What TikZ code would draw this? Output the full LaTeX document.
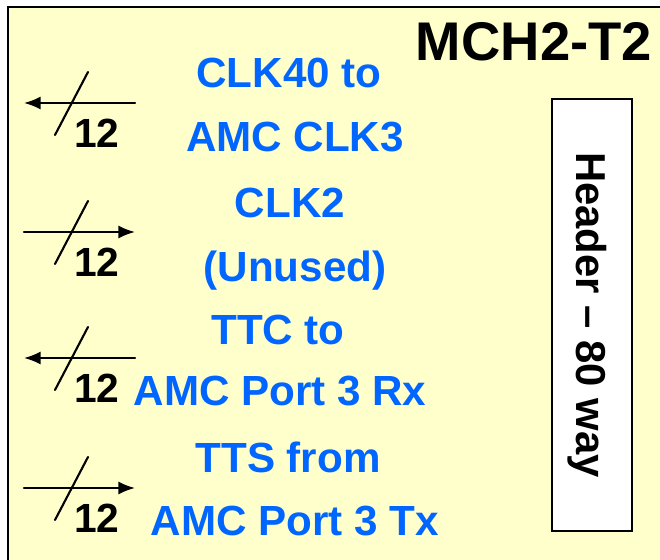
\documentclass[tikz,border=0pt]{standalone}
\usepackage{fontspec}
\setmainfont{Liberation Sans}
\usetikzlibrary{arrows.meta,positioning}
\definecolor{fondo}{HTML}{FFFFCC}
\definecolor{azul}{HTML}{0066FF}
\tikzset{
  senal/.style={azul,font=\bfseries\fontsize{24}{28}\selectfont,anchor=base,inner sep=0pt},
  buslbl/.style={font=\bfseries\fontsize{23.2}{27}\selectfont,anchor=base,inner sep=0pt},
  busline/.style={line width=1.2pt},
}
\begin{document}
\begin{tikzpicture}[x=0.02cm,y=-0.02cm,>={Latex[length=9.5pt,width=7.5pt]},line cap=round]
  \useasboundingbox (0,0) rectangle (660,560);
  \clip (0,0) rectangle (660,560);
  % placa
  \draw[fill=fondo,line width=1.5pt] (8,7) rectangle (700,600);
  \node[font=\bfseries\fontsize{31}{36}\selectfont,anchor=base,inner sep=0pt] (titulo) at (534,61) {MCH2-T2};
  % conector
  \node[draw,fill=white,line width=1pt,rotate=-90,minimum width=8.64cm,minimum height=1.6cm,
        inner sep=0pt,text depth=0pt,font=\bfseries\fontsize{23.8}{28}\selectfont] (header) at (592,315) {Header – 80 way};
  % buses de 12 lineas
  \foreach \yy/\dir [count=\i] in {103/<-,232/->,358/<-,488/->}{
    \coordinate (a\i) at (24,\yy);
    \coordinate (b\i) at (135,\yy);
    \draw[busline,\dir] (a\i) -- (b\i);
    \coordinate (s\i) at (55,\yy+32);
    \coordinate (t\i) at (88,\yy-31);
    \draw[busline] (s\i) -- (t\i);
    \node[buslbl] (n\i) at (97,\yy+45) {12};
  }
  % nombres de las senales
  \foreach \xx/\yy/\txt [count=\i] in {289/88/CLK40 to, 295/152/AMC CLK3, 290/218/CLK2, 295/282/(Unused),
                                       278/345/TTC to, 280/406/AMC Port 3 Rx, 288/473/TTS from, 295/536/AMC Port 3 Tx}{
    \node[senal] (l\i) at (\xx,\yy) {\txt};
  }
\end{tikzpicture}
\end{document}
